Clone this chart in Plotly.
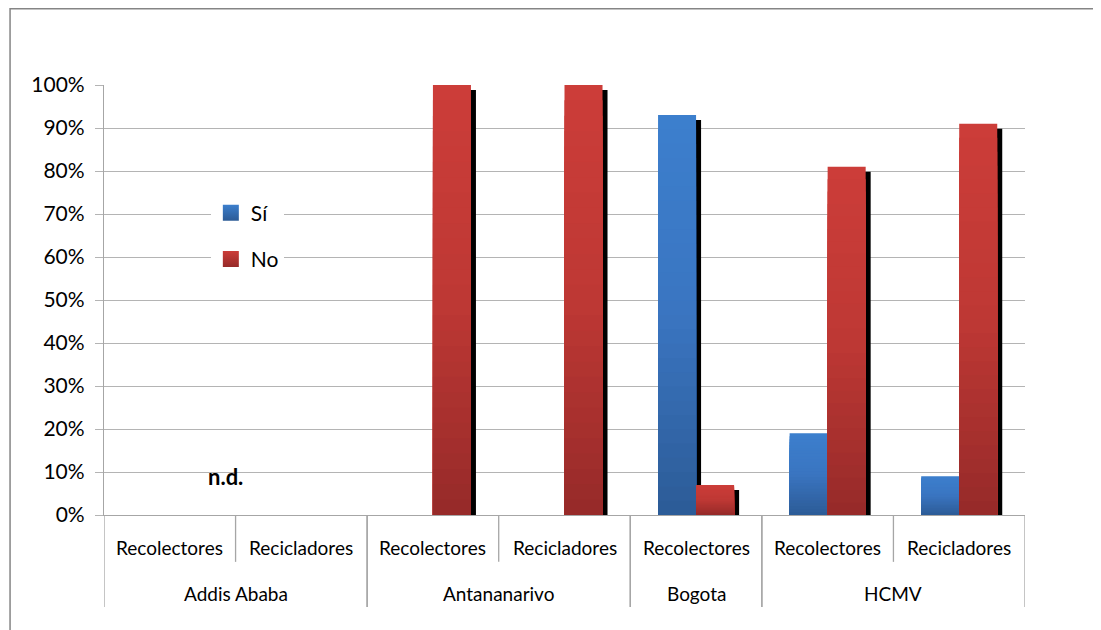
import plotly.graph_objects as go

# ---- data ----
cities = ["Addis Ababa", "Addis Ababa", "Antananarivo", "Antananarivo", "Bogota", "HCMV", "HCMV"]
roles = ["Recolectores", "Recicladores", "Recolectores", "Recicladores", "Recolectores", "Recolectores", "Recicladores"]
si_values = [0, 0, 0, 0, 93, 19, 9]
no_values = [0, 0, 100, 100, 7, 81, 91]
series_names = ["Sí", "No"]
y_ticks = [0, 10, 20, 30, 40, 50, 60, 70, 80, 90, 100]
y_tick_labels = ["0%", "10%", "20%", "30%", "40%", "50%", "60%", "70%", "80%", "90%", "100%"]
nd_label = "n.d."

# ---- style ----
FONT = "Lato"
GRID = "#B4B4B4"
AXIS = "#A6A6A6"
BAR_W = 0.289              # bar width in category units
SHADOW_DX = 0.038          # shadow offset (category units)
SHADOW_DY = 1.16           # shadow offset (percent units)
N_LAYERS = 28
blue_stops = [(0.0, (60, 127, 205)), (0.5, (58, 117, 193)), (1.0, (44, 91, 150))]
red_stops = [(0.0, (204, 61, 57)), (0.5, (190, 56, 52)), (1.0, (150, 42, 41))]


def interp(stops, t):
    for (t0, c0), (t1, c1) in zip(stops, stops[1:]):
        if t0 <= t <= t1:
            f = (t - t0) / (t1 - t0)
            c = [round(a + (b - a) * f) for a, b in zip(c0, c1)]
            return "rgb(%d,%d,%d)" % tuple(c)
    return "rgb(%d,%d,%d)" % stops[-1][1]


pos = list(range(len(roles)))          # category index positions
fig = go.Figure()

for s_idx, (name, vals, stops) in enumerate(
        [(series_names[0], si_values, blue_stops), (series_names[1], no_values, red_stops)]):
    offset = -BAR_W if s_idx == 0 else 0.0
    # shadow
    fig.add_trace(go.Bar(
        x=pos, y=[max(v - SHADOW_DY, 0) for v in vals], base=0,
        offset=offset + SHADOW_DX, width=BAR_W,
        marker=dict(color="black", line=dict(width=0)),
        showlegend=False, hoverinfo="skip", legendgroup=name))
    # gradient layers
    for k in range(N_LAYERS):
        frac = 1 - k / N_LAYERS
        t = (k + 0.5) / N_LAYERS
        fig.add_trace(go.Bar(
            x=pos, y=[v * frac for v in vals], base=0,
            offset=offset, width=BAR_W,
            name=name, legendgroup=name, showlegend=False,
            marker=dict(color=interp(stops, t if k > 0 else 0.0), line=dict(width=0)),
            hovertext=[f"{c} - {r}: {v}%" for c, r, v in zip(cities, roles, vals)],
            hoverinfo="text" if k == 0 else "skip"))
    # legend swatch (square with vertical gradient)
    fig.add_trace(go.Scatter(
        x=[None], y=[None], mode="markers", name=name, legendgroup=name, showlegend=True,
        marker=dict(symbol="square", size=16, color=interp(stops, 0.0),
                    gradient=dict(type="vertical", color=interp(stops, 1.0)))))

# category labels (inner level) and group labels (outer level)
INNER_Y = -0.0767
OUTER_Y = -0.1814
INNER_LINE = -0.109
OUTER_LINE = -0.214
for i, r in zip(pos, roles):
    fig.add_annotation(text=r, x=i, y=INNER_Y, xref="x", yref="paper", showarrow=False,
                       xanchor="center", yanchor="middle",
                       font=dict(family=FONT, size=19, color="black"))
groups = []
for i, c in zip(pos, cities):
    if groups and groups[-1][0] == c:
        groups[-1][2] = i
    else:
        groups.append([c, i, i])
for c, i0, i1 in groups:
    fig.add_annotation(text=c, x=(i0 + i1) / 2, y=OUTER_Y, xref="x", yref="paper", showarrow=False,
                       xanchor="center", yanchor="middle",
                       font=dict(family=FONT, size=19, color="black"))
    for b in (i0 - 0.5, i1 + 0.5):
        fig.add_shape(type="line", x0=b, x1=b, y0=0, y1=OUTER_LINE, xref="x", yref="paper",
                      line=dict(color=AXIS, width=1.3))
    for j in range(i0, i1):
        fig.add_shape(type="line", x0=j + 0.5, x1=j + 0.5, y0=0, y1=INNER_LINE, xref="x", yref="paper",
                      line=dict(color=AXIS, width=1.3))

fig.add_annotation(text="<b>" + nd_label + "</b>", xref="paper", yref="y", x=0.1314, y=9,
                   xanchor="center", yanchor="middle",
                   showarrow=False, font=dict(family=FONT, size=22, color="black"))

# outer chart border
fig.add_shape(type="rect", xref="paper", yref="paper", x0=-0.102, x1=1.3, y0=-0.5, y1=1.1774,
              line=dict(color="#858585", width=1.5), fillcolor="rgba(0,0,0,0)", layer="below")

fig.update_layout(
    width=1093, height=622,
    margin=dict(l=96, r=76, t=77, b=115),
    paper_bgcolor="white", plot_bgcolor="white",
    barmode="overlay",
    font=dict(family=FONT, size=19, color="black"),
    legend=dict(x=0.116, y=0.75, xanchor="left", yanchor="top",
                bgcolor="white", traceorder="grouped", tracegroupgap=16,
                font=dict(family=FONT, size=21, color="black")),
    yaxis=dict(range=[0, 100], tickvals=y_ticks, ticktext=y_tick_labels,
               showgrid=True, gridcolor=GRID, gridwidth=1.3,
               showline=True, linecolor=AXIS, linewidth=1.3,
               ticks="outside", ticklen=8, tickcolor=GRID, tickwidth=1.3,
               ticklabelstandoff=6,
               tickfont=dict(family=FONT, size=21, color="black"), zeroline=False),
    xaxis=dict(range=[-0.5, len(roles) - 0.5], showline=True, linecolor=AXIS, linewidth=1.3,
               showticklabels=False, ticks="", showgrid=False, zeroline=False),
)

fig.write_html("out.html")
